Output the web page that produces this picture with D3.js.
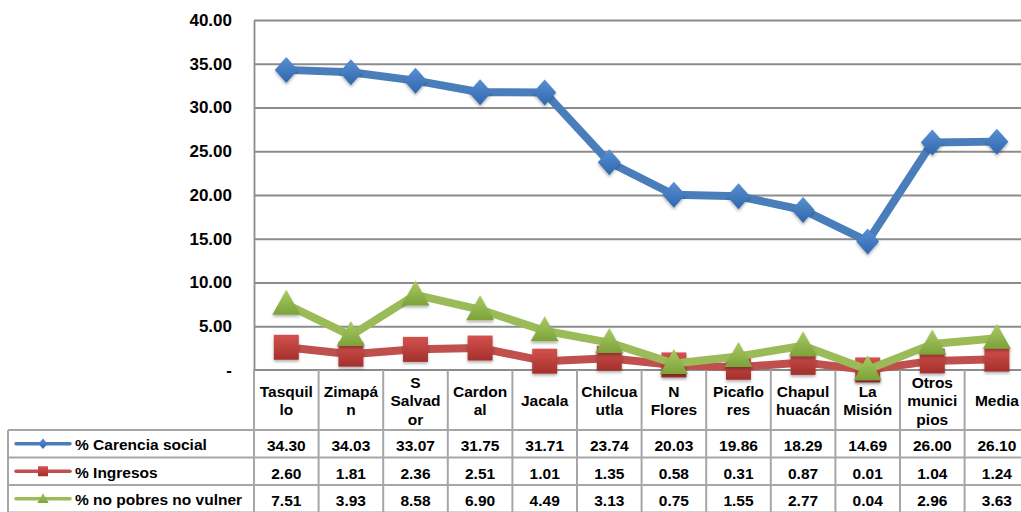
<!DOCTYPE html>
<html><head><meta charset="utf-8">
<script src="https://cdn.jsdelivr.net/npm/d3@7/dist/d3.min.js"></script>
<style>
html,body{margin:0;padding:0;background:#fff;}
svg text{font-family:"Liberation Sans",Arial,sans-serif;font-weight:bold;fill:#000;}
</style></head>
<body>
<svg id="chart" width="1021" height="512"></svg>
<script>
const categories = ["Tasquillo","Zimapán","S Salvador","Cardonal","Jacala","Chilcuautla","N Flores","Picaflores","Chapulhuacán","La Misión","Otros municipios","Media"];
const categoryLabels = [["Tasquil","lo"],["Zimapá","n"],["S","Salvad","or"],["Cardon","al"],["Jacala"],["Chilcua","utla"],["N","Flores"],["Picaflo","res"],["Chapul","huacán"],["La","Misión"],["Otros","munici","pios"],["Media"]];
const carencia = [34.30,34.03,33.07,31.75,31.71,23.74,20.03,19.86,18.29,14.69,26.00,26.10];
const ingresos = [2.60,1.81,2.36,2.51,1.01,1.35,0.58,0.31,0.87,0.01,1.04,1.24];
const noPobres = [7.51,3.93,8.58,6.90,4.49,3.13,0.75,1.55,2.77,0.04,2.96,3.63];
const seriesNames = ["% Carencia social","% Ingresos","% no pobres no vulner"];
const yTicks = [0,5,10,15,20,25,30,35,40];
const yTickLabels = ["-","5.00","10.00","15.00","20.00","25.00","30.00","35.00","40.00"];

const series = [
  {name:seriesNames[0], values:carencia, line:"#4a7ebb", c1:"#5a8fd2", c2:"#2f67ad", shape:"diamond"},
  {name:seriesNames[1], values:ingresos, line:"#c0504d", c1:"#d4524e", c2:"#a3302c", shape:"square"},
  {name:seriesNames[2], values:noPobres, line:"#9bbb59", c1:"#a9cb62", c2:"#7da23a", shape:"triangle"}
];

const svg = d3.select("#chart");
const plotLeft = 254, colW = 64.6;
const yTop = 20, yBase = 370;
const x = d3.scaleBand().domain(categories).range([plotLeft, plotLeft + colW*categories.length]).padding(0);
const y = d3.scaleLinear().domain([0,40]).range([yBase, yTop]);

const defs = svg.append("defs");
series.forEach((s,i)=>{
  const g = defs.append("linearGradient").attr("id","grad"+i).attr("x1",0).attr("y1",0).attr("x2",0).attr("y2",1);
  g.append("stop").attr("offset","0%").attr("stop-color",s.c1);
  g.append("stop").attr("offset","100%").attr("stop-color",s.c2);
});
const f = defs.append("filter").attr("id","sh").attr("x","-50%").attr("y","-50%").attr("width","200%").attr("height","200%");
f.append("feDropShadow").attr("dx",0).attr("dy",2).attr("stdDeviation",1.5).attr("flood-color","#000").attr("flood-opacity",0.3);

// gridlines
const grid = svg.append("g").attr("transform",`translate(${plotLeft},0)`)
  .call(d3.axisLeft(y).tickValues(yTicks.filter(v=>v>0)).tickSize(-(1021-plotLeft)).tickFormat(""));
grid.select(".domain").remove();
grid.selectAll("line").attr("stroke","#8c8c8c").attr("stroke-width",1.8);

// y axis
const yAxis = svg.append("g").attr("transform",`translate(${plotLeft},0)`)
  .call(d3.axisLeft(y).tickValues(yTicks).tickSize(0).tickPadding(22).tickFormat((d,i)=>yTickLabels[i]));
yAxis.select(".domain").attr("stroke","#8c8c8c").attr("stroke-width",1.8);
yAxis.selectAll("text").style("font-size","17px").attr("font-family","Liberation Sans, Arial, sans-serif").attr("font-weight","bold").attr("fill","#000");

// base line
svg.append("line").attr("x1",plotLeft).attr("x2",1021).attr("y1",yBase).attr("y2",yBase).attr("stroke","#8c8c8c").attr("stroke-width",1.8);

// table
const rowTop = 430, rowH = 27.5, tableLeft = 8, tableRight = plotLeft + colW*categories.length;
const tg = svg.append("g");
const tableColor = "#a6a6a6";
const fs = "15.5px";
const bounds = categories.map(c=>x(c)).concat([tableRight]);
tg.selectAll("line.v").data(bounds).join("line").attr("class","v")
  .attr("x1",d=>d).attr("x2",d=>d).attr("y1",yBase).attr("y2",512)
  .attr("stroke",tableColor).attr("stroke-width",2);
tg.append("line").attr("x1",tableLeft).attr("x2",tableLeft).attr("y1",rowTop).attr("y2",512).attr("stroke",tableColor).attr("stroke-width",2);
[0,1,2,3].forEach(i=>{
  tg.append("line").attr("x1",tableLeft).attr("x2",tableRight).attr("y1",rowTop+i*rowH).attr("y2",rowTop+i*rowH)
    .attr("stroke",tableColor).attr("stroke-width",2);
});

// category header labels
const lh = 18.5;
categories.forEach((c,i)=>{
  const lines = categoryLabels[i];
  const t = tg.append("text").attr("text-anchor","middle").style("font-size",fs);
  lines.forEach((ln,j)=>{
    t.append("tspan").attr("x", x(c)+x.bandwidth()/2).attr("y", 406 - (lines.length-1)*lh/2 + j*lh).text(ln);
  });
});

// data cells
series.forEach((s,si)=>{
  const ry = rowTop + si*rowH;
  tg.selectAll("text.v"+si).data(s.values).join("text").attr("class","v"+si)
    .attr("x",(d,i)=>x(categories[i])+x.bandwidth()/2).attr("y",ry+21)
    .attr("text-anchor","middle").style("font-size",fs).text(d=>d.toFixed(2));
  tg.append("line").attr("x1",16).attr("x2",70).attr("y1",ry+rowH/2).attr("y2",ry+rowH/2)
    .attr("stroke",s.line).attr("stroke-width",3.5).attr("stroke-linecap","round");
  drawMarker(tg, s, si, 43, ry+rowH/2, 0.4);
  tg.append("text").attr("x",75).attr("y",ry+20).style("font-size",fs).text(s.name);
});

function markerPath(shape, k){
  if(shape==="diamond") return `M0,${-13*k}L${11.5*k},0L0,${13*k}L${-11.5*k},0Z`;
  if(shape==="square") return `M${-12.5*k},${-12.5*k}h${25*k}v${25*k}h${-25*k}Z`;
  return `M0,${-14.5*k}L${14*k},${10.5*k}L${-14*k},${10.5*k}Z`;
}
function drawMarker(g, s, si, cx, cy, k){
  g.append("path").attr("d",markerPath(s.shape,k)).attr("transform",`translate(${cx},${cy})`)
    .attr("fill",`url(#grad${si})`).attr("filter", k>0.6?"url(#sh)":null);
}

// series lines + markers
const lineGen = d3.line().x((d,i)=>x(categories[i])+x.bandwidth()/2).y(d=>y(d));
series.forEach((s,si)=>{
  const g = svg.append("g");
  g.append("path").datum(s.values).attr("d",lineGen).attr("fill","none")
    .attr("stroke",s.line).attr("stroke-width",8).attr("stroke-linejoin","round");
  g.selectAll("path.m").data(s.values).join("path").attr("class","m")
    .attr("d",markerPath(s.shape,1))
    .attr("transform",(d,i)=>`translate(${x(categories[i])+x.bandwidth()/2},${y(d)})`)
    .attr("fill",`url(#grad${si})`).attr("filter","url(#sh)");
});
</script>
</body></html>
